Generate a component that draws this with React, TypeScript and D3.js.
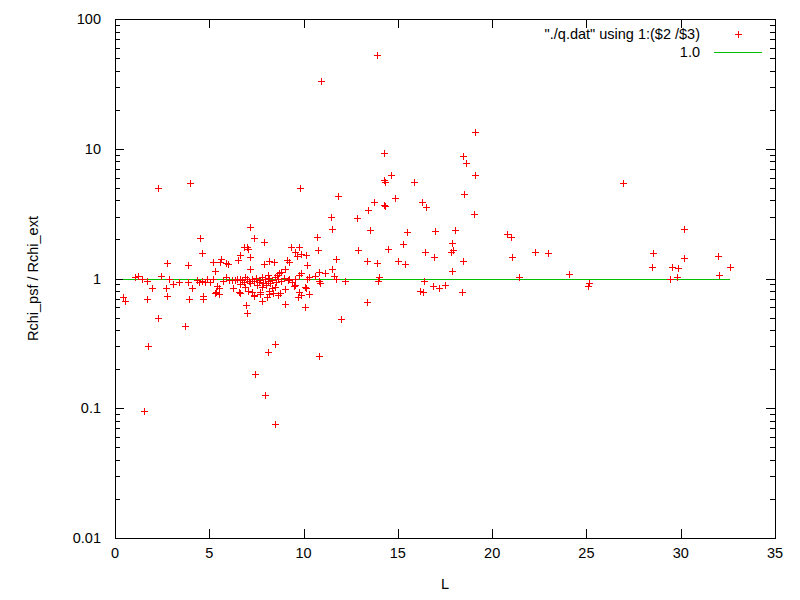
import React, { useEffect, useRef } from 'react';
import * as d3 from 'd3';

// L vs Rchi_psf / Rchi_ext
const qData: [number, number][] = [
    [0.44, 0.72], [0.53, 0.67], [1.06, 1.02], [1.24, 1.04], [1.42, 0.99], [1.69, 0.96], [1.69, 0.69], [1.98, 0.84],
    [2.30, 0.50], [1.74, 0.30], [1.56, 0.096], [2.43, 1.04], [2.78, 1.31], [2.89, 0.99], [2.70, 0.85], [2.75, 0.73],
    [3.10, 0.90], [3.42, 0.94], [3.69, 0.43], [3.85, 1.26], [3.85, 0.94], [4.06, 0.84], [3.95, 0.70], [2.29, 4.98],
    [3.99, 5.45],
    [4.52, 2.04], [4.64, 1.56], [4.35, 0.97], [4.48, 0.94], [4.61, 0.96], [4.79, 0.94], [4.66, 0.73], [4.66, 0.69],
    [5.20, 1.33], [5.28, 1.14], [5.20, 0.99], [5.41, 0.875], [5.37, 0.79], [5.53, 0.84], [5.49, 0.76], [5.64, 1.41],
    [5.59, 1.35], [5.90, 1.31], [5.99, 1.29], [6.03, 0.97], [6.24, 0.84], [6.38, 0.97], [6.51, 1.39], [6.61, 1.52],
    [6.61, 1.0], [6.56, 0.79], [6.65, 0.78], [6.21, 0.97], [6.47, 1.0], [6.65, 0.905], [5.28, 0.77], [4.89, 0.99],
    [5.05, 0.94], [5.74, 0.96], [5.90, 1.03],
    [7.18, 2.48], [7.36, 2.04], [7.89, 1.90], [6.82, 1.76], [7.01, 1.76], [7.06, 1.69], [7.14, 1.46], [7.14, 1.18],
    [8.15, 1.36], [8.42, 1.33], [8.60, 1.06], [8.69, 1.11], [9.13, 1.39], [9.22, 1.35], [9.31, 1.76], [9.57, 1.61],
    [9.75, 1.76], [9.66, 1.49], [9.84, 1.54], [10.11, 1.52], [10.20, 1.27], [9.04, 1.18], [6.95, 0.625], [7.01, 0.54],
    [7.39, 0.73], [7.68, 0.76], [7.80, 0.67], [7.45, 0.183], [7.98, 0.126], [8.10, 0.27], [8.46, 0.31], [8.47, 0.075],
    [8.15, 0.76], [8.37, 0.77], [8.65, 0.74], [8.99, 0.64], [9.89, 0.75], [10.28, 0.755], [10.07, 0.60], [7.06, 0.805],
    [7.36, 0.75], [8.19, 0.80], [8.51, 0.86], [9.01, 0.825], [9.57, 0.89], [10.11, 0.84], [8.07, 0.72], [8.74, 0.77],
    [9.48, 0.875], [9.75, 0.79], [9.70, 0.72], [7.27, 0.79], [7.71, 0.79], [6.91, 0.86], [7.18, 0.92], [8.30, 0.85],
    [6.91, 1.03], [8.12, 1.06], [9.22, 1.0], [9.75, 1.06], [9.84, 1.10], [8.78, 1.12], [7.89, 1.29],
    [7.29, 0.99], [7.39, 0.96], [7.50, 1.01], [7.61, 0.94], [7.71, 0.97], [7.82, 1.03], [7.87, 0.92], [7.98, 0.99],
    [8.09, 0.96], [8.19, 1.01], [8.24, 0.92], [8.35, 0.97], [8.46, 1.03], [8.56, 0.94], [8.67, 0.99], [8.78, 0.96],
    [8.94, 1.01], [9.15, 0.97], [9.36, 0.94], [9.52, 0.99], [6.76, 0.97], [6.86, 0.94], [7.02, 0.99], [7.13, 0.96],
    [7.55, 0.89], [8.03, 0.89], [7.77, 0.86],
    [9.80, 4.96], [11.82, 4.32], [10.90, 33.3], [10.73, 2.08], [10.78, 1.66], [11.53, 2.39], [10.81, 1.13], [11.13, 1.11],
    [11.53, 1.18], [11.61, 1.05], [10.60, 1.05], [10.81, 0.96], [10.87, 0.93], [10.81, 0.254], [11.97, 0.49], [13.39, 0.66],
    [11.44, 2.96], [12.84, 2.91], [13.53, 2.35], [12.89, 1.66], [11.72, 1.41], [13.37, 1.36], [13.88, 1.31], [11.70, 0.99],
    [12.20, 0.96], [10.20, 1.0], [10.28, 1.02], [10.05, 0.855], [13.88, 52.7], [14.27, 9.22], [14.63, 6.28], [14.27, 5.74],
    [14.32, 5.51], [13.74, 3.89], [13.42, 3.37], [14.27, 3.66], [14.32, 3.62], [14.86, 4.15], [15.87, 5.51], [15.48, 2.27],
    [15.28, 1.84], [14.48, 1.69], [15.02, 1.36], [15.39, 1.29], [14.01, 1.03], [13.95, 0.96], [16.19, 0.80],
    [19.11, 13.5], [18.47, 8.8], [18.63, 7.73], [19.11, 6.24], [18.53, 4.46], [16.28, 3.89], [16.51, 3.57], [19.06, 3.13],
    [16.98, 2.32], [18.05, 2.36], [17.89, 1.87], [17.94, 1.66], [17.82, 1.59], [16.45, 1.61], [16.93, 1.46], [18.47, 1.36],
    [17.89, 1.14], [16.40, 0.95], [16.88, 0.875], [17.16, 0.84], [17.52, 0.89], [16.35, 0.79], [18.42, 0.79], [20.80, 2.20],
    [21.01, 2.08], [21.03, 1.46], [22.25, 1.59], [22.98, 1.56], [21.45, 1.02],
    [24.09, 1.08], [25.14, 0.93], [25.10, 0.88], [26.96, 5.4], [28.55, 1.56], [28.49, 1.22], [29.54, 1.22], [29.87, 1.20],
    [29.43, 1.0], [29.82, 1.03], [30.19, 2.39], [30.19, 1.43], [31.98, 1.48], [32.03, 1.06], [32.63, 1.22]
];

const refLevel = 1.0;
const xTicks = [0, 5, 10, 15, 20, 25, 30, 35];
const yTicks = [0.01, 0.1, 1, 10, 100];
const legendLabels = ['"./q.dat" using 1:($2 /$3)', '1.0'];

const width = 800;
const height = 600;
const margin = { top: 19, right: 25, bottom: 62, left: 115 };
const font = '"Liberation Sans", Arial, sans-serif';

const App: React.FC = () => {
    const svgRef = useRef<SVGSVGElement>(null);

    useEffect(() => {
        if (!svgRef.current) return;
        const svg = d3.select(svgRef.current);
        svg.selectAll('*').remove();

        const x0 = margin.left, x1 = width - margin.right;
        const y0 = height - margin.bottom, y1 = margin.top;

        const xScale = d3.scaleLinear().domain([0, 35]).range([x0, x1]);
        const yScale = d3.scaleLog().domain([0.01, 100]).range([y0, y1]);

        svg.append('rect').attr('width', width).attr('height', height).attr('fill', '#fff');

        // ticks, mirrored on all sides (gnuplot style)
        const ticks = svg.append('g').attr('stroke', '#000').attr('stroke-width', 1).attr('shape-rendering', 'crispEdges');
        xTicks.forEach(t => {
            const px = Math.round(xScale(t)) + 0.5;
            ticks.append('line').attr('x1', px).attr('x2', px).attr('y1', y0).attr('y2', y0 - 9);
            ticks.append('line').attr('x1', px).attr('x2', px).attr('y1', y1).attr('y2', y1 + 9);
        });
        const minor: number[] = [];
        for (let e = -2; e < 2; e++) {
            for (let m = 2; m <= 9; m++) minor.push(m * Math.pow(10, e));
        }
        yTicks.forEach(t => {
            const py = Math.round(yScale(t)) + 0.5;
            ticks.append('line').attr('x1', x0).attr('x2', x0 + 9).attr('y1', py).attr('y2', py);
            ticks.append('line').attr('x1', x1).attr('x2', x1 - 9).attr('y1', py).attr('y2', py);
        });
        minor.forEach(t => {
            const py = Math.round(yScale(t)) + 0.5;
            ticks.append('line').attr('x1', x0).attr('x2', x0 + 5).attr('y1', py).attr('y2', py);
            ticks.append('line').attr('x1', x1).attr('x2', x1 - 5).attr('y1', py).attr('y2', py);
        });

        // tick labels
        svg.append('g').selectAll('text').data(xTicks).join('text')
            .attr('x', d => xScale(d))
            .attr('y', y0 + 20)
            .attr('text-anchor', 'middle')
            .attr('font-family', font)
            .attr('font-size', '14.5px')
            .text(d => String(d));

        svg.append('g').selectAll('text').data(yTicks).join('text')
            .attr('x', x0 - 14)
            .attr('y', d => yScale(d) + 5)
            .attr('text-anchor', 'end')
            .attr('font-family', font)
            .attr('font-size', '14.5px')
            .text(d => String(d));

        // axis titles
        svg.append('text')
            .attr('x', (x0 + x1) / 2)
            .attr('y', 589)
            .attr('text-anchor', 'middle')
            .attr('font-family', font)
            .attr('font-size', '14.5px')
            .text('L');

        svg.append('text')
            .attr('transform', `translate(38,${(y0 + y1) / 2}) rotate(-90)`)
            .attr('text-anchor', 'middle')
            .attr('font-family', font)
            .attr('font-size', '14.5px')
            .text('Rchi_psf / Rchi_ext');

        // reference line at 1.0 across the data range
        const [lMin, lMax] = d3.extent(qData, d => d[0]) as [number, number];
        svg.append('line')
            .attr('x1', xScale(lMin)).attr('x2', xScale(lMax))
            .attr('y1', Math.round(yScale(refLevel)) + 0.5).attr('y2', Math.round(yScale(refLevel)) + 0.5)
            .attr('stroke', '#00c000')
            .attr('stroke-width', 1)
            .attr('shape-rendering', 'crispEdges');

        // points
        const s = 3.5;
        const pts = svg.append('g').attr('stroke', '#ff0000').attr('stroke-width', 1).attr('shape-rendering', 'crispEdges');
        qData.forEach(([l, r]) => {
            const px = Math.round(xScale(l)) + 0.5;
            const py = Math.round(yScale(r)) + 0.5;
            pts.append('path').attr('d', `M${px - s},${py}H${px + s}M${px},${py - s}V${py + s}`);
        });

        // legend
        const legend = svg.append('g').attr('font-family', font).attr('font-size', '14.5px');
        legendLabels.forEach((label, i) => {
            const ly = 34 + i * 18;
            legend.append('text')
                .attr('x', 700)
                .attr('y', ly + 5)
                .attr('text-anchor', 'end')
                .text(label);
        });
        legend.append('path')
            .attr('d', `M${738.5 - s},34.5H${738.5 + s}M738.5,${34.5 - s}V${34.5 + s}`)
            .attr('stroke', '#ff0000')
            .attr('shape-rendering', 'crispEdges');
        legend.append('line')
            .attr('x1', 714).attr('x2', 762).attr('y1', 52.5).attr('y2', 52.5)
            .attr('stroke', '#00c000')
            .attr('shape-rendering', 'crispEdges');

        // border
        svg.append('rect')
            .attr('x', x0 + 0.5).attr('y', y1 + 0.5)
            .attr('width', x1 - x0).attr('height', y0 - y1)
            .attr('fill', 'none')
            .attr('stroke', '#000')
            .attr('shape-rendering', 'crispEdges');
    }, []);

    return (
        <div style={{ position: 'fixed', left: 0, top: 0 }}>
            <svg ref={svgRef} width={width} height={height} style={{ display: 'block' }} />
        </div>
    );
};

export default App;
